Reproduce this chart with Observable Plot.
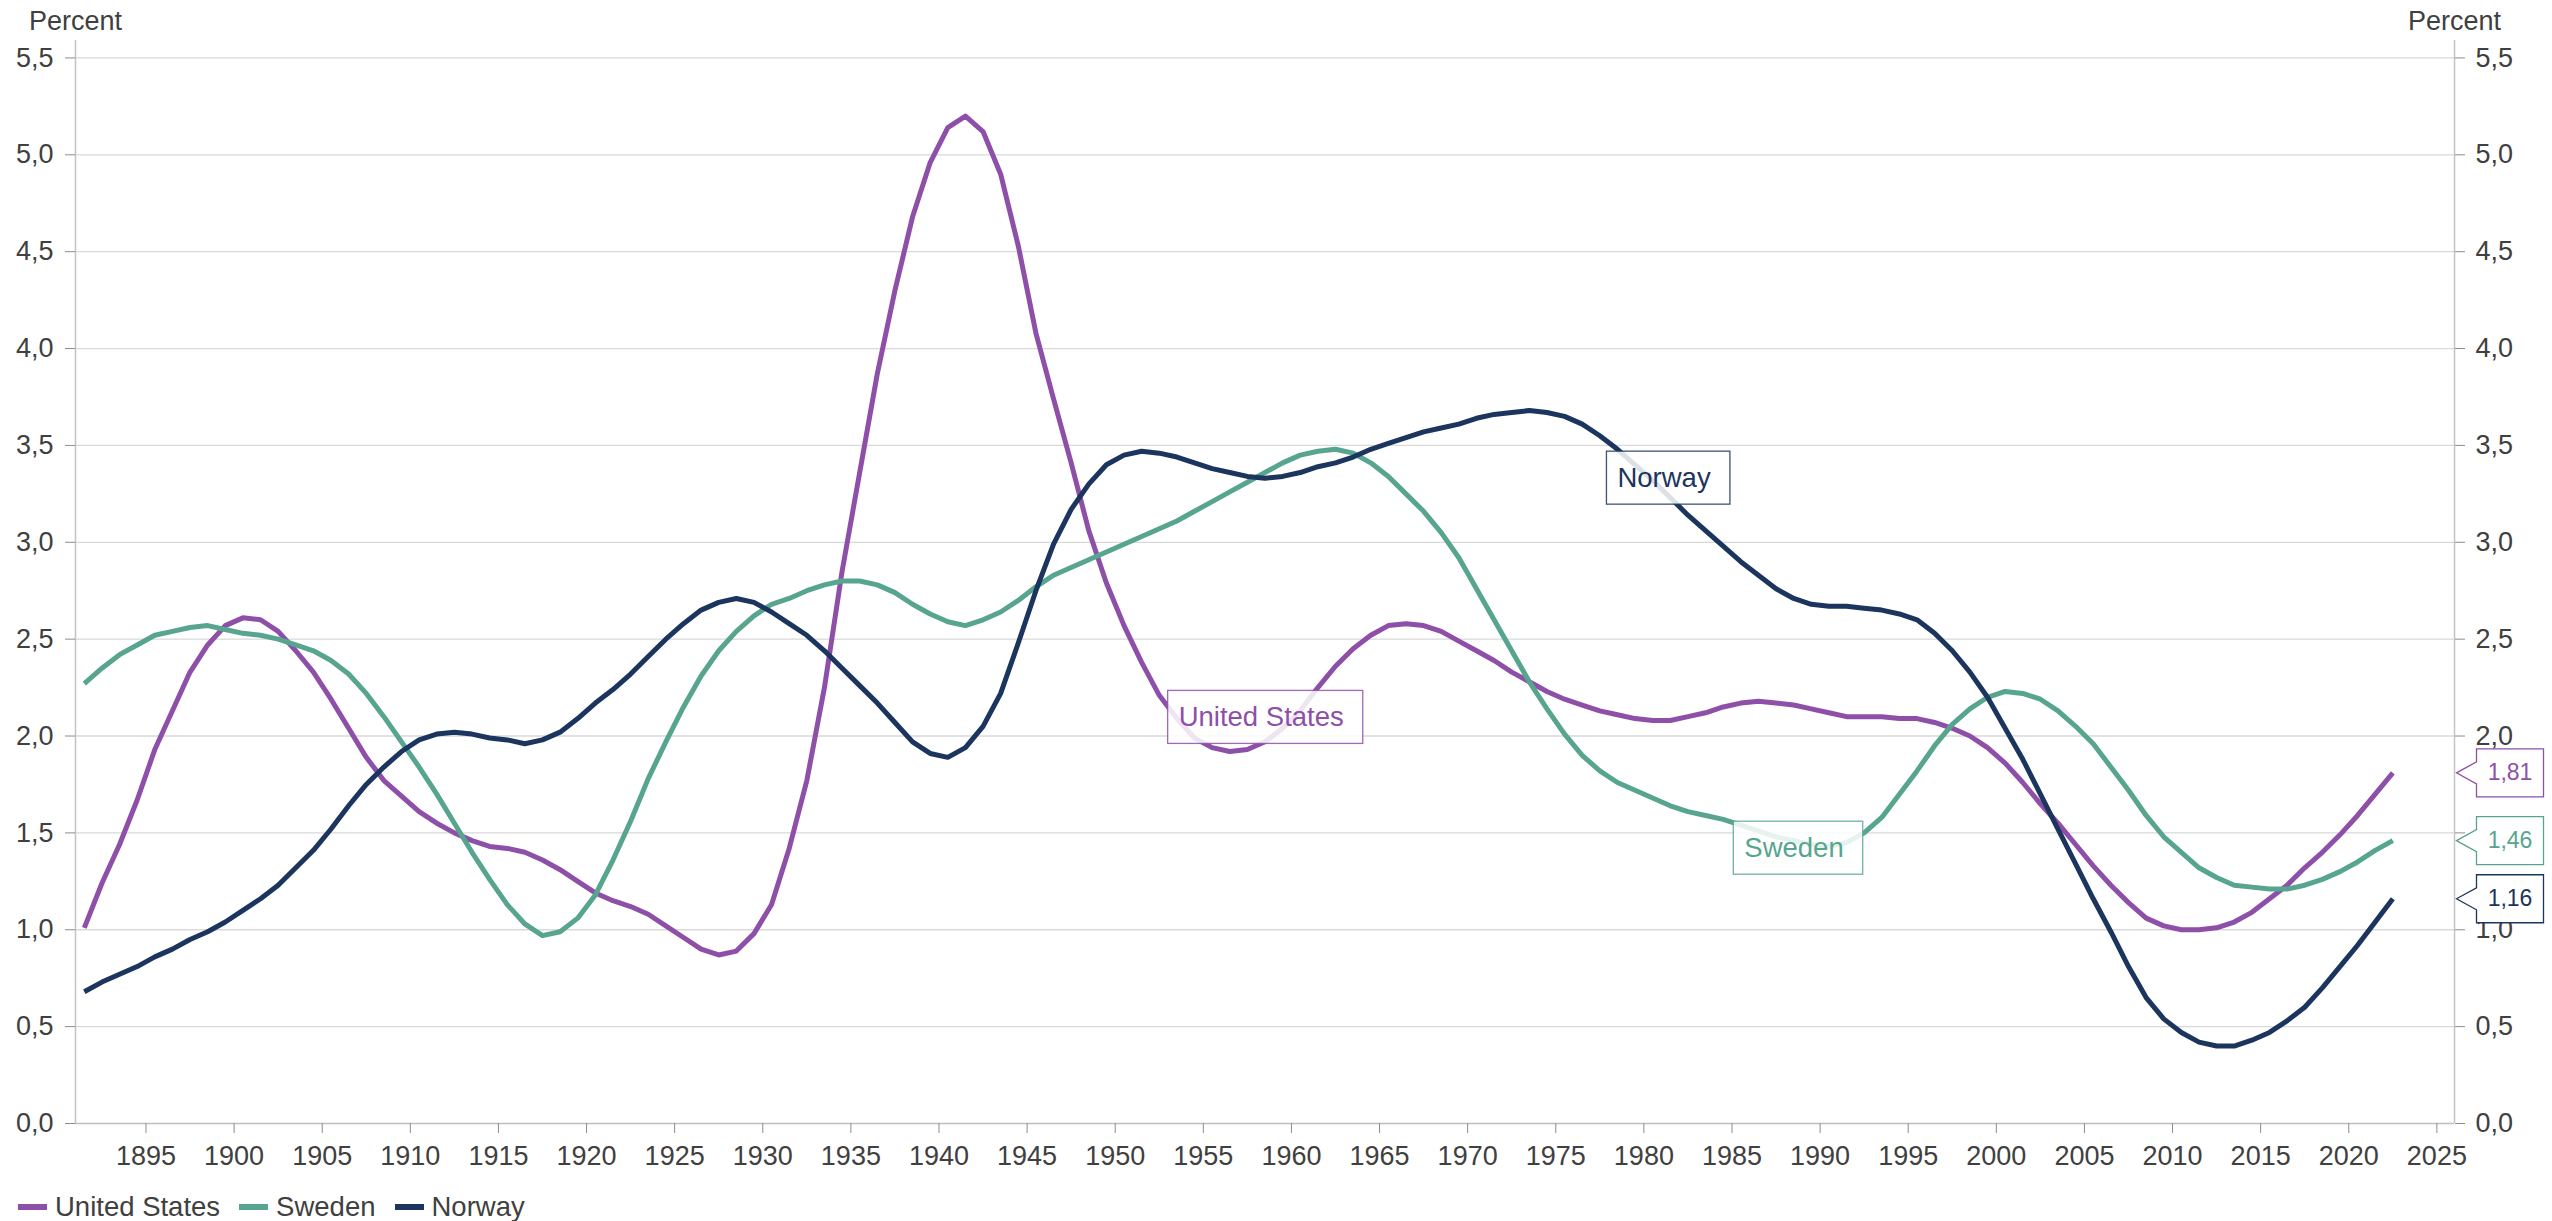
<!DOCTYPE html>
<html><head><meta charset="utf-8">
<script src="https://cdn.jsdelivr.net/npm/d3@7"></script>
<script src="https://cdn.jsdelivr.net/npm/@observablehq/plot@0.6"></script>
<style>
html,body{margin:0;padding:0;background:#fff;}
body{width:2552px;height:1221px;overflow:hidden;font-family:"Liberation Sans",Arial,sans-serif;}
#chart svg{display:block;}
#legend{display:flex;align-items:center;height:44px;padding-left:18px;color:#404040;font-size:27.5px;}
.item{display:flex;align-items:center;margin-right:19px;}
.sw{width:29px;height:6px;margin-right:8px;}
</style></head><body>
<div id="chart"></div>
<div id="legend"></div>
<script>
const startYear = 1891;
const endYear = 2022;
const seriesNames = ["United States", "Sweden", "Norway"];
const usValues = [
1.01,1.24,1.44,1.67,1.93,2.13,2.33,2.47,2.57,2.61,
2.60,2.54,2.44,2.33,2.19,2.04,1.89,1.77,1.69,1.61,
1.55,1.50,1.46,1.43,1.42,1.40,1.36,1.31,1.25,1.19,
1.15,1.12,1.08,1.02,0.96,0.90,0.87,0.89,0.98,1.13,
1.42,1.77,2.25,2.85,3.36,3.87,4.30,4.68,4.96,5.14,
5.20,5.12,4.90,4.53,4.08,3.74,3.41,3.06,2.79,2.57,
2.38,2.21,2.09,1.99,1.94,1.92,1.93,1.97,2.04,2.13,
2.25,2.36,2.45,2.52,2.57,2.58,2.57,2.54,2.49,2.44,
2.39,2.33,2.28,2.23,2.19,2.16,2.13,2.11,2.09,2.08,
2.08,2.10,2.12,2.15,2.17,2.18,2.17,2.16,2.14,2.12,
2.10,2.10,2.10,2.09,2.09,2.07,2.04,2.00,1.94,1.86,
1.76,1.65,1.55,1.44,1.33,1.23,1.14,1.06,1.02,1.00,
1.00,1.01,1.04,1.09,1.16,1.23,1.32,1.40,1.49,1.59,
1.70,1.81];
const swedenValues = [
2.27,2.35,2.42,2.47,2.52,2.54,2.56,2.57,2.55,2.53,
2.52,2.50,2.47,2.44,2.39,2.32,2.22,2.10,1.97,1.84,
1.70,1.55,1.40,1.26,1.13,1.03,0.97,0.99,1.06,1.18,
1.36,1.56,1.78,1.97,2.15,2.31,2.44,2.54,2.62,2.68,
2.71,2.75,2.78,2.80,2.80,2.78,2.74,2.68,2.63,2.59,
2.57,2.60,2.64,2.70,2.77,2.83,2.87,2.91,2.95,2.99,
3.03,3.07,3.11,3.16,3.21,3.26,3.31,3.36,3.41,3.45,
3.47,3.48,3.46,3.41,3.34,3.25,3.16,3.05,2.92,2.76,
2.60,2.44,2.28,2.14,2.01,1.90,1.82,1.76,1.72,1.68,
1.64,1.61,1.59,1.57,1.54,1.51,1.48,1.46,1.44,1.43,
1.45,1.50,1.58,1.70,1.82,1.95,2.06,2.14,2.20,2.23,
2.22,2.19,2.13,2.05,1.96,1.84,1.72,1.59,1.48,1.40,
1.32,1.27,1.23,1.22,1.21,1.21,1.23,1.26,1.30,1.35,
1.41,1.46];
const norwayValues = [
0.68,0.73,0.77,0.81,0.86,0.90,0.95,0.99,1.04,1.10,
1.16,1.23,1.32,1.41,1.52,1.64,1.75,1.84,1.92,1.98,
2.01,2.02,2.01,1.99,1.98,1.96,1.98,2.02,2.09,2.17,
2.24,2.32,2.41,2.50,2.58,2.65,2.69,2.71,2.69,2.64,
2.58,2.52,2.44,2.35,2.26,2.17,2.07,1.97,1.91,1.89,
1.94,2.05,2.22,2.48,2.75,2.99,3.17,3.30,3.40,3.45,
3.47,3.46,3.44,3.41,3.38,3.36,3.34,3.33,3.34,3.36,
3.39,3.41,3.44,3.48,3.51,3.54,3.57,3.59,3.61,3.64,
3.66,3.67,3.68,3.67,3.65,3.61,3.55,3.48,3.40,3.32,
3.23,3.14,3.06,2.98,2.90,2.83,2.76,2.71,2.68,2.67,
2.67,2.66,2.65,2.63,2.60,2.53,2.44,2.33,2.20,2.04,
1.88,1.70,1.52,1.34,1.16,0.99,0.81,0.65,0.54,0.47,
0.42,0.40,0.40,0.43,0.47,0.53,0.60,0.70,0.81,0.92,
1.04,1.16];
const xTicks = [1895,1900,1905,1910,1915,1920,1925,1930,1935,1940,1945,1950,1955,1960,1965,1970,1975,1980,1985,1990,1995,2000,2005,2010,2015,2020,2025];
const yTicks = [0,0.5,1,1.5,2,2.5,3,3.5,4,4.5,5,5.5];
const seriesColors = ["#8e4fa8", "#57a58e", "#1b355e"];

const years = d3.range(startYear, endYear + 1);
const valuesBy = {"United States": usValues, "Sweden": swedenValues, "Norway": norwayValues};
const rows = seriesNames.flatMap(name => years.map((year, i) => ({series: name, year, value: valuesBy[name][i]})));
const lastRows = seriesNames.map(name => ({series: name, year: endYear, value: valuesBy[name][valuesBy[name].length - 1]}));

// in-chart series label anchors (text start, box middle)
const labelAnchors = [
  {series: "Norway", year: 1978.5, value: 3.33},
  {series: "United States", year: 1953.6, value: 2.095},
  {series: "Sweden", year: 1985.7, value: 1.42}
];

const fmtY = d => d.toFixed(1).replace(".", ",");
const fmtV = d => d.toFixed(2).replace(".", ",");
const font = '"Liberation Sans", Arial, sans-serif';
const calloutSymbol = {draw(ctx) {
  ctx.moveTo(2, 0); ctx.lineTo(22, -11); ctx.lineTo(22, -24); ctx.lineTo(89, -24);
  ctx.lineTo(89, 24); ctx.lineTo(22, 24); ctx.lineTo(22, 11); ctx.closePath();
}};

const plot = Plot.plot({
  width: 2552, height: 1185,
  marginTop: 40, marginBottom: 62, marginLeft: 75, marginRight: 98,
  style: {fontFamily: font, fontSize: "27px", color: "#404040", background: "#fff", overflow: "visible"},
  x: {domain: [1891, 2026], axis: null},
  y: {domain: [0, 5.59], axis: null},
  color: {domain: seriesNames, range: seriesColors},
  marks: [
    Plot.ruleY(yTicks.filter(d => d > 0), {stroke: "#d9d9d9", strokeWidth: 1.3}),
    Plot.ruleY([0], {stroke: "#bfbfbf", strokeWidth: 1.5}),
    Plot.ruleX([1891, 2026], {stroke: "#c4c4c4", strokeWidth: 1.5}),
    Plot.axisY({anchor: "left", ticks: yTicks, tickFormat: fmtY, tickSize: 10, tickPadding: 12, fontSize: 27, stroke: "#8c8c8c", fill: "#404040", label: null}),
    Plot.axisY({anchor: "right", ticks: yTicks, tickFormat: fmtY, tickSize: 10, tickPadding: 11, fontSize: 27, stroke: "#8c8c8c", fill: "#404040", label: null}),
    Plot.axisX({ticks: xTicks, tickFormat: d => `${d}`, tickSize: 10, tickPadding: 12, fontSize: 27, stroke: "#8c8c8c", fill: "#404040", label: null}),
    Plot.text(["Percent"], {frameAnchor: "top-left", lineAnchor: "middle", dy: -19.5, fontSize: 27, textAnchor: "middle", fill: "#404040"}),
    Plot.text(["Percent"], {frameAnchor: "top-right", lineAnchor: "middle", dy: -19.5, fontSize: 27, textAnchor: "middle", fill: "#404040"}),
    Plot.line(rows, {x: d => d.year + 0.5, y: "value", z: "series", stroke: "series", strokeWidth: 5, strokeLinejoin: "round", strokeLinecap: "butt"}),
    Plot.text(labelAnchors, {x: "year", y: "value", text: "series", fill: "series", fontSize: 27.5, textAnchor: "start", lineAnchor: "middle", ariaDescription: "series-labels"}),
    Plot.dot(lastRows, {y: "value", frameAnchor: "right", symbol: calloutSymbol, r: 5, fill: "white", stroke: "series", strokeWidth: 1.3}),
    Plot.text(lastRows, {y: "value", frameAnchor: "right", dx: 55.5, text: d => fmtV(d.value), fill: "series", fontSize: 23, textAnchor: "middle", lineAnchor: "middle"})
  ]
});
document.getElementById("chart").append(plot);

// boxes behind the in-chart series labels
d3.select(plot).selectAll('g[aria-description="series-labels"] text').each(function() {
  const b = this.getBBox();
  const col = this.getAttribute("fill");
  const node = this;
  d3.select(this.parentNode).insert("rect", () => node)
    .attr("transform", this.getAttribute("transform"))
    .attr("x", b.x - 11).attr("y", b.y + b.height / 2 - 26.5)
    .attr("width", b.width + 30).attr("height", 53)
    .attr("fill", "white").attr("fill-opacity", 0.85)
    .attr("stroke", col).attr("stroke-opacity", 0.85).attr("stroke-width", 1.3);
});

const legend = d3.select("#legend");
seriesNames.forEach((name, i) => {
  const item = legend.append("div").attr("class", "item");
  item.append("div").attr("class", "sw").style("background", seriesColors[i]);
  item.append("span").text(name);
});
</script>
</body></html>
